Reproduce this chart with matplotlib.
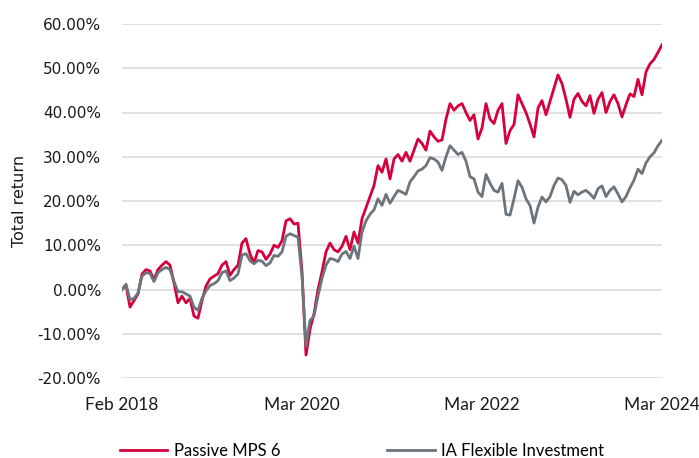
import numpy as np
import matplotlib
matplotlib.use("Agg")
import matplotlib.pyplot as plt
from matplotlib.ticker import FuncFormatter

# total return (%), roughly every 17 days Feb 2018 -> Mar 2024
passive_mps6 = [
    0.0, 1.0, -4.0, -2.5, -1.0, 3.5, 4.5, 4.2, 2.2, 4.5, 5.5, 6.3, 5.5, 1.5, -3.0, -1.5,
    -3.0, -2.0, -6.0, -6.5, -2.5, 0.8, 2.4, 3.0, 3.6, 5.5, 6.3, 3.2, 4.5, 5.5, 10.5, 11.5,
    8.0, 6.0, 8.8, 8.5, 6.8, 8.0, 10.0, 9.5, 11.0, 15.5, 16.0, 14.8, 15.0, 4.0, -14.8, -9.0,
    -5.5, 0.0, 4.0, 8.5, 10.5, 9.0, 8.5, 9.8, 12.0, 9.0, 13.0, 10.5, 16.0, 18.5, 21.0, 23.5,
    28.0, 26.5, 29.5, 25.0, 29.5, 30.5, 29.0, 31.0, 29.0, 31.5, 34.0, 33.0, 31.5, 35.8, 34.5, 33.5,
    33.8, 38.5, 42.0, 40.5, 41.5, 42.0, 40.0, 38.2, 39.5, 34.0, 36.5, 42.0, 38.5, 37.5, 40.5, 42.0,
    33.0, 35.9, 37.3, 44.0, 42.0, 40.0, 37.4, 34.5, 41.0, 42.7, 39.5, 42.5, 45.5, 48.5, 46.5, 43.0,
    38.9, 43.0, 44.3, 42.5, 41.5, 43.8, 39.8, 43.0, 44.5, 40.0, 42.5, 44.0, 42.0, 39.0, 41.8, 44.2,
    43.6, 47.5, 44.0, 49.2, 51.0, 52.0, 53.6, 55.3,
]
ia_flexible = [
    0.0, 1.2, -2.3, -2.0, -0.8, 3.0, 3.8, 3.6, 1.8, 3.8, 4.5, 5.0, 4.5, 1.8, -0.5, -0.5,
    -1.0, -1.5, -4.0, -4.7, -2.0, -0.3, 0.9, 1.3, 2.0, 3.8, 4.2, 2.0, 2.6, 3.5, 7.8, 8.1,
    6.5, 5.8, 6.6, 6.4, 5.4, 6.0, 7.7, 7.5, 8.5, 12.0, 12.6, 12.2, 11.8, 3.0, -12.8, -7.0,
    -6.0, -1.5, 2.5, 5.5, 7.0, 6.8, 6.3, 8.0, 8.6, 7.0, 9.8, 7.0, 13.0, 15.5, 17.0, 18.0,
    20.5, 19.0, 21.5, 19.5, 21.0, 22.4, 22.0, 21.5, 24.3, 25.5, 26.8, 27.2, 28.0, 29.8, 29.5, 28.8,
    26.9, 30.0, 32.5, 31.5, 30.5, 31.0, 29.0, 25.5, 25.0, 22.0, 21.0, 26.0, 24.0, 22.4, 22.0, 24.0,
    17.0, 16.8, 20.5, 24.6, 23.1, 20.5, 19.0, 15.0, 18.6, 20.9, 19.8, 21.0, 23.5, 25.2, 24.8, 23.5,
    19.7, 22.2, 21.4, 22.0, 22.4, 21.6, 20.6, 22.8, 23.4, 21.0, 22.4, 23.2, 21.6, 19.8, 21.0, 23.0,
    24.7, 27.2, 26.2, 28.6, 30.0, 30.9, 32.5, 33.7,
]
tick_labels = ["Feb 2018", "Mar 2020", "Mar 2022", "Mar 2024"]
y_ticks = np.arange(-20, 61, 10)

red = "#D5003C"
grey = "#6C747C"

fig = plt.figure(figsize=(6.99, 4.58), dpi=100)
ax = fig.add_axes([122 / 699, 1 - 378 / 458, 540 / 699, 354 / 458])

x = np.arange(len(passive_mps6))
ax.plot(x, passive_mps6, color=red, lw=2.0, label="Passive MPS 6")
ax.plot(x, ia_flexible, color=grey, lw=2.0, label="IA Flexible Investment")

ax.set_xlim(0, len(x) - 1)
ax.set_ylim(-20, 60)
ax.set_yticks(y_ticks)
ax.yaxis.set_major_formatter(FuncFormatter(lambda v, p: f"{v:.2f}%"))
ax.set_xticks(np.linspace(0, len(x) - 1, len(tick_labels)))
ax.set_xticklabels(tick_labels, family="Lato", fontsize=12.5)

ax.grid(axis="y", color="#D9D9D9", lw=1.1)
ax.set_axisbelow(True)
for s in ax.spines.values():
    s.set_visible(False)
ax.tick_params(axis="both", length=0, colors="#1a1a1a")
ax.tick_params(axis="y", labelsize=11, pad=15)
ax.tick_params(axis="x", pad=14)

ax.set_ylabel("Total return", fontsize=11.5, color="#1a1a1a")
ax.yaxis.set_label_coords(-0.176, 0.5)

fig.legend(loc="center", bbox_to_anchor=(362 / 699, 1 - 451 / 458), ncol=2,
           frameon=False, prop={"family": "Lato", "size": 12},
           handlelength=2.85, handletextpad=0.4, columnspacing=6.4)

fig.savefig("out.png", dpi=100)
